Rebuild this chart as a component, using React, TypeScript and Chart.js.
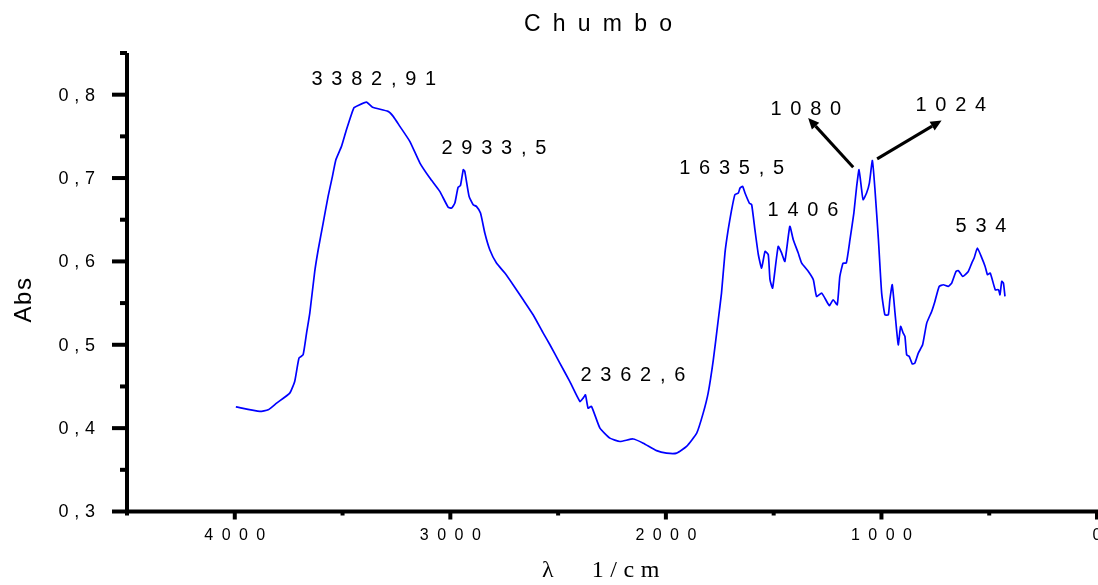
import React, { useEffect, useRef } from "react";
import { Chart, registerables } from "chart.js";

Chart.register(...registerables);

// Spectrum (wavenumber in 1/cm, absorbance)
const wavenumbers = [
  3995, 3884, 3845, 3806, 3745, 3722, 3702, 3683, 3667, 3652, 3629, 3613, 3590, 3567, 3547, 3531,
  3505, 3482, 3448, 3428, 3389, 3361, 3289, 3265, 3234, 3188, 3141, 3095, 3049, 3010, 2994, 2979,
  2964, 2953, 2940, 2933, 2913, 2894, 2879, 2860, 2840, 2817, 2786, 2747, 2709, 2662, 2616, 2569,
  2538, 2492, 2446, 2399, 2384, 2373, 2361, 2345, 2306, 2260, 2213, 2152, 2105, 2043, 1997, 1950,
  1904, 1857, 1827, 1804, 1780, 1757, 1742, 1726, 1711, 1695, 1680, 1664, 1656, 1644, 1633, 1613,
  1602, 1587, 1571, 1556, 1540, 1525, 1517, 1505, 1479, 1463, 1448, 1425, 1409, 1386, 1370, 1339,
  1316, 1301, 1277, 1242, 1224, 1205, 1193, 1178, 1163, 1146, 1128, 1115, 1104, 1092, 1085, 1069,
  1056, 1042, 1030, 1014, 999, 984, 968, 961, 950, 937, 922, 911, 899, 891, 883, 871,
  857, 845, 829, 809, 790, 767, 752, 732, 713, 690, 674, 654, 643, 623, 597, 581,
  570, 555, 534, 519, 508, 495, 472, 457, 450, 442, 434, 427,
];
const absorbance = [
  0.4255, 0.42, 0.422, 0.43, 0.442, 0.456, 0.484, 0.488, 0.514, 0.538, 0.588, 0.614, 0.646, 0.678, 0.702, 0.722,
  0.738, 0.758, 0.784, 0.787, 0.791, 0.785, 0.78, 0.774, 0.762, 0.744, 0.718, 0.7, 0.684, 0.665, 0.664, 0.67,
  0.689, 0.691, 0.71, 0.708, 0.678, 0.668, 0.666, 0.658, 0.634, 0.614, 0.598, 0.586, 0.572, 0.554, 0.536, 0.514,
  0.5, 0.478, 0.456, 0.432, 0.436, 0.44, 0.424, 0.426, 0.4, 0.388, 0.384, 0.387, 0.382, 0.373, 0.37, 0.37,
  0.378, 0.394, 0.418, 0.442, 0.482, 0.53, 0.562, 0.61, 0.638, 0.662, 0.68, 0.682, 0.688, 0.69, 0.682, 0.67,
  0.668, 0.638, 0.608, 0.592, 0.612, 0.608, 0.578, 0.568, 0.618, 0.61, 0.6, 0.642, 0.626, 0.61, 0.598, 0.588,
  0.578, 0.558, 0.562, 0.547, 0.554, 0.548, 0.582, 0.598, 0.598, 0.626, 0.658, 0.69, 0.71, 0.686, 0.674, 0.682,
  0.694, 0.721, 0.686, 0.626, 0.562, 0.536, 0.536, 0.554, 0.572, 0.538, 0.5, 0.522, 0.514, 0.51, 0.488, 0.486,
  0.477, 0.478, 0.49, 0.5, 0.526, 0.54, 0.552, 0.57, 0.572, 0.57, 0.574, 0.588, 0.589, 0.582, 0.588, 0.598,
  0.604, 0.616, 0.604, 0.594, 0.584, 0.586, 0.566, 0.566, 0.56, 0.576, 0.574, 0.558,
];

// Axes
const yTickValues = [0.3, 0.4, 0.5, 0.6, 0.7, 0.8];
const yTickLabels = ["0 , 3", "0 , 4", "0 , 5", "0 , 6", "0 , 7", "0 , 8"];
const yMinorTickValues = [0.35, 0.45, 0.55, 0.65, 0.75, 0.85];
const xTickValues = [4000, 3000, 2000, 1000, 0];
const xTickLabels = ["4 0 0 0", "3 0 0 0", "2 0 0 0", "1 0 0 0", "0"];
const xMinorTickValues = [4500, 3500, 2500, 1500, 500];

const titleText = "C h u m b o";
const xAxisTitle = "λ      1 / c m";
const yAxisTitle = "Abs";

// Peak annotations (data coordinates)
const peakLabels = ["3 3 8 2 , 9 1", "2 9 3 3 , 5", "2 3 6 2 , 6", "1 6 3 5 , 5", "1 4 0 6", "1 0 8 0", "1 0 2 4", "5 3 4"];
const peakLabelX = [3355, 2798, 2153, 1695, 1364, 1351, 678, 538];
const peakLabelY = [0.818, 0.735, 0.463, 0.711, 0.6615, 0.7826, 0.787, 0.642];

const arrowFromX = [1131, 1020];
const arrowFromY = [0.713, 0.723];
const arrowToX = [1340, 721];
const arrowToY = [0.772, 0.769];

const SANS = '"Liberation Sans", Arial, sans-serif';
const SERIF = '"Liberation Serif", "Times New Roman", serif';

function spacedText(ctx: CanvasRenderingContext2D, text: string, x: number, y: number, spacing: number, align: string) {
  const c: any = ctx;
  c.letterSpacing = "0px";
  ctx.textAlign = "left";
  const base = ctx.measureText(text).width;
  const w = base + spacing * (Array.from(text).length - 1);
  const sx = align === "center" ? x - w / 2 : align === "right" ? x - w : x;
  c.letterSpacing = spacing + "px";
  ctx.fillText(text, sx, y);
  c.letterSpacing = "0px";
}

const decorPlugin = {
  id: "decor",
  afterDraw(chart: any) {
    const ctx: CanvasRenderingContext2D = chart.ctx;
    const xs = chart.scales.x;
    const ys = chart.scales.y;
    const { left, right, top, bottom } = chart.chartArea;
    ctx.save();
    ctx.strokeStyle = "#000";
    ctx.fillStyle = "#000";
    ctx.lineCap = "butt";
    ctx.lineWidth = 4;

    // axis lines
    ctx.beginPath();
    ctx.moveTo(left, top);
    ctx.lineTo(left, bottom);
    ctx.moveTo(left - 2, bottom);
    ctx.lineTo(right + 2, bottom);
    ctx.stroke();

    // y ticks
    yTickValues.forEach((v) => {
      const py = ys.getPixelForValue(v);
      ctx.beginPath();
      ctx.moveTo(left - 15, py);
      ctx.lineTo(left, py);
      ctx.stroke();
    });
    yMinorTickValues.forEach((v) => {
      const py = ys.getPixelForValue(v);
      ctx.beginPath();
      ctx.moveTo(left - 7, py);
      ctx.lineTo(left, py);
      ctx.stroke();
    });
    // x ticks
    xTickValues.forEach((v) => {
      const px = xs.getPixelForValue(v);
      ctx.beginPath();
      ctx.moveTo(px, bottom);
      ctx.lineTo(px, bottom + 8);
      ctx.stroke();
    });
    xMinorTickValues.forEach((v) => {
      const px = xs.getPixelForValue(v);
      ctx.beginPath();
      ctx.moveTo(px, bottom);
      ctx.lineTo(px, bottom + 4);
      ctx.stroke();
    });

    // tick labels
    ctx.font = "18px " + SANS;
    ctx.textBaseline = "middle";
    yTickValues.forEach((v, i) => {
      spacedText(ctx, yTickLabels[i], left - 32, ys.getPixelForValue(v) + 1, 0.4, "right");
    });
    ctx.font = "16px " + SANS;
    ctx.textBaseline = "alphabetic";
    xTickValues.forEach((v, i) => {
      spacedText(ctx, xTickLabels[i], xs.getPixelForValue(v), bottom + 28, 2, "center");
    });

    // title
    ctx.font = "23px " + SANS;
    ctx.textBaseline = "alphabetic";
    spacedText(ctx, titleText, (left + right) / 2 - 14, 31, 2.9, "center");

    // x axis title
    ctx.font = "24px " + SERIF;
    ctx.textBaseline = "alphabetic";
    spacedText(ctx, xAxisTitle, 542, 577, 0.3, "left");

    // y axis title
    ctx.save();
    ctx.translate(31, (top + bottom) / 2 + 18);
    ctx.rotate(-Math.PI / 2);
    ctx.font = "24px " + SANS;
    ctx.textBaseline = "alphabetic";
    spacedText(ctx, yAxisTitle, 0, 0, 1.5, "center");
    ctx.restore();

    // peak labels
    ctx.font = "20px " + SANS;
    ctx.textBaseline = "middle";
    peakLabels.forEach((t, i) => {
      spacedText(ctx, t, xs.getPixelForValue(peakLabelX[i]), ys.getPixelForValue(peakLabelY[i]), 1.6, "center");
    });

    // arrows
    ctx.lineWidth = 3;
    arrowFromX.forEach((_, i) => {
      const x1 = xs.getPixelForValue(arrowFromX[i]);
      const y1 = ys.getPixelForValue(arrowFromY[i]);
      const x2 = xs.getPixelForValue(arrowToX[i]);
      const y2 = ys.getPixelForValue(arrowToY[i]);
      const ang = Math.atan2(y2 - y1, x2 - x1);
      const head = 11;
      const hw = 5;
      const bx = x2 - head * Math.cos(ang);
      const by = y2 - head * Math.sin(ang);
      ctx.beginPath();
      ctx.moveTo(x1, y1);
      ctx.lineTo(bx, by);
      ctx.stroke();
      ctx.beginPath();
      ctx.moveTo(x2, y2);
      ctx.lineTo(bx + hw * Math.sin(ang), by - hw * Math.cos(ang));
      ctx.lineTo(bx - hw * Math.sin(ang), by + hw * Math.cos(ang));
      ctx.closePath();
      ctx.fill();
    });

    ctx.restore();
  },
};

export default function App() {
  const canvasRef = useRef<HTMLCanvasElement | null>(null);

  useEffect(() => {
    if (!canvasRef.current) return;
    const chart = new Chart(canvasRef.current, {
      type: "line",
      data: {
        datasets: [
          {
            label: "Chumbo",
            data: wavenumbers.map((w, i) => ({ x: w, y: absorbance[i] })),
            borderColor: "#0000ff",
            borderWidth: 1.7,
            pointRadius: 0,
            tension: 0.15,
            fill: false,
          },
        ],
      },
      options: {
        responsive: false,
        devicePixelRatio: 1,
        animation: false,
        layout: { padding: { left: 127, right: 1, top: 53, bottom: 73.5 } },
        plugins: {
          legend: { display: false },
          tooltip: { enabled: false },
          title: { display: false },
        },
        scales: {
          x: { type: "linear", min: 0, max: 4500, reverse: true, display: false },
          y: { type: "linear", min: 0.3, max: 0.85, display: false },
        },
      },
      plugins: [decorPlugin],
    });
    return () => chart.destroy();
  }, []);

  return (
    <div style={{ position: "absolute", left: 0, top: 0, width: 1098, height: 585, background: "#fff" }}>
      <canvas ref={canvasRef} width={1098} height={585} />
    </div>
  );
}
